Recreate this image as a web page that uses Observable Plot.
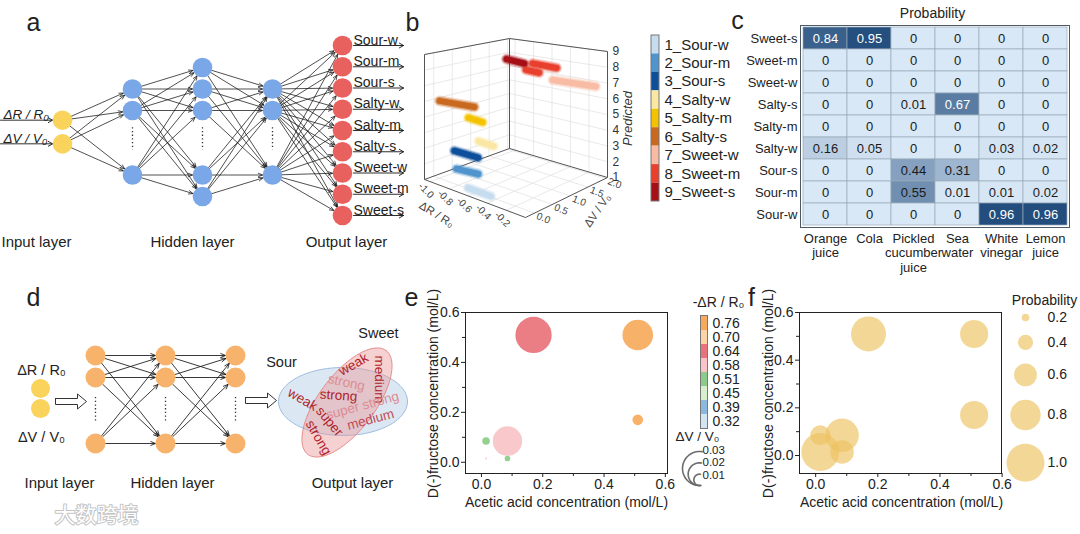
<!DOCTYPE html>
<html><head><meta charset="utf-8">
<script src="https://cdn.jsdelivr.net/npm/d3@7"></script>
<script src="https://cdn.jsdelivr.net/npm/@observablehq/plot@0.6"></script>
<style>
html,body{margin:0;padding:0;background:#fff;}
#fig{position:relative;width:1080px;height:534px;overflow:hidden;background:#fff;font-family:"Liberation Sans",Arial,sans-serif;color:#222;}
#fig svg{display:block;}
</style></head><body><div id="fig"></div>
<script>
// ================= DATA =================
// (a) network
const inputLabelsA = ["ΔR / R₀", "ΔV / V₀"];
const hiddenSlotsA = [[1, 2, 5], [0, 1, 2, 5, 6], [1, 2, 5]];
const outputLabelsA = ["Sour-w", "Sour-m", "Sour-s", "Salty-w", "Salty-m", "Salty-s", "Sweet-w", "Sweet-m", "Sweet-s"];
const layerTitles = ["Input layer", "Hidden layer", "Output layer"];

// (b) 3D prediction scatter
const tasteLabels = ["1_Sour-w", "2_Sour-m", "3_Sour-s", "4_Salty-w", "5_Salty-m", "6_Salty-s", "7_Sweet-w", "8_Sweet-m", "9_Sweet-s"];
const tasteColors = ["#c6dcef", "#4f94cd", "#0d4f9b", "#fbe7a4", "#f4c300", "#c9691f", "#f8bba3", "#e8402c", "#a50f15"];
const dRTicks = [-1.0, -0.8, -0.6, -0.4, -0.2];
const dVTicks = [0, 0.5, 1.0, 1.5, 2.0];
const predTicks = [1, 2, 3, 4, 5, 6, 7, 8, 9];
const clusterClass = [1, 2, 3, 4, 5, 6, 7, 8, 8, 9];
const clusterDR0 = [-0.71, -0.82, -0.87, -0.65, -0.83, -1.00, -0.46, -0.54, -0.63, -0.57];
const clusterDR1 = [-0.47, -0.63, -0.64, -0.49, -0.68, -0.72, -0.03, -0.40, -0.37, -0.38];
const clusterDV0 = [0.03, 0.00, 0.07, 0.16, 0.35, 0.00, 1.71, 1.18, 1.59, 0.72];
const clusterDV1 = [0.03, 0.10, 0.12, 0.16, 0.35, 0.23, 1.80, 1.18, 1.59, 0.72];

// (c) probability matrix
const samplesC = ["Orange\njuice", "Cola", "Pickled\ncucumber\njuice", "Sea\nwater", "White\nvinegar", "Lemon\njuice"];
const classesC = ["Sweet-s", "Sweet-m", "Sweet-w", "Salty-s", "Salty-m", "Salty-w", "Sour-s", "Sour-m", "Sour-w"];
const probC = [
  [0.84, 0.95, 0, 0, 0, 0],
  [0, 0, 0, 0, 0, 0],
  [0, 0, 0, 0, 0, 0],
  [0, 0, 0.01, 0.67, 0, 0],
  [0, 0, 0, 0, 0, 0],
  [0.16, 0.05, 0, 0, 0.03, 0.02],
  [0, 0, 0.44, 0.31, 0, 0],
  [0, 0, 0.55, 0.01, 0.01, 0.02],
  [0, 0, 0, 0, 0.96, 0.96]
];

// (d) network with fuzzy output
const inputLabelsD = ["ΔR / R₀", "ΔV / V₀"];
const hiddenNodesD = [3, 3, 3];
const tasteGroupsD = ["Sour", "Sweet"];
const levelWordsD = ["weak", "strong", "strong", "medium", "weak", "super strong", "super", "medium", "strong"];
const levelToneD = ["dark", "light", "dark", "dark", "dark", "light", "dark", "mid", "dark"];

// (e), (f) bubble charts
const acid = [0.17, 0.51, 0.51, 0.085, 0.015, 0.085, 0.015];
const fructose = [0.51, 0.51, 0.17, 0.085, 0.085, 0.015, 0.015];
const dRe = [0.64, 0.76, 0.76, 0.58, 0.51, 0.51, 0.58];
const dVe = [0.032, 0.027, 0.0094, 0.026, 0.0067, 0.005, 0.0018];
const probF = [0.92, 0.74, 0.74, 0.88, 0.53, 0.62, 1.0];
const legendE = [0.76, 0.70, 0.64, 0.58, 0.51, 0.45, 0.39, 0.32];
const legendEColors = ["#f7aa5c", "#fdd4a6", "#e9727b", "#f9c3c7", "#8ccb89", "#d8efcc", "#8cb8de", "#d3e5f2"];
const sizeLegendE = [0.03, 0.02, 0.01];
const sizeLegendF = [0.2, 0.4, 0.6, 0.8, 1.0];
const axisTicks = [0, 0.2, 0.4, 0.6];
const minorTicks = [0.1, 0.3, 0.5];

// ================= HELPERS =================
const FONT = '"Liberation Sans", Arial, Helvetica, sans-serif';
const fig = document.getElementById("fig");
function place(node, left, top, clipW, clipH) {
  const d = document.createElement("div");
  d.style.position = "absolute"; d.style.left = left + "px"; d.style.top = top + "px";
  if (clipW) { d.style.width = clipW + "px"; d.style.height = clipH + "px"; d.style.overflow = "hidden"; }
  d.appendChild(node); fig.appendChild(d);
}
const STYLE = {background: "transparent", fontFamily: FONT, fontSize: "14px", color: "#222", overflow: "visible"};
function pix(left, top, w, h, marks) {
  return Plot.plot({
    width: w, height: h, marginTop: 0, marginRight: 0, marginBottom: 0, marginLeft: 0, style: STYLE,
    x: {type: "linear", domain: [left, left + w], range: [0, w], axis: null},
    y: {type: "linear", domain: [top, top + h], range: [0, h], axis: null},
    color: {type: "identity"},
    marks
  });
}

// ================= (a) =================
{
  const colX = L => 62 + 70 * L;
  const slotY = s => 67 + 21.5 * s;
  const nodes = [];
  inputLabelsA.forEach((t, i) => nodes.push({L: 0, x: colX(0), y: slotY(3 + (i - 0.5) * 1.1), fill: "#f9d35b", label: t}));
  hiddenSlotsA.forEach((slots, k) => slots.forEach(s => nodes.push({L: k + 1, x: colX(k + 1), y: slotY(s), fill: "#7aa7e7"})));
  outputLabelsA.forEach((t, i) => nodes.push({L: 4, x: colX(4), y: 45 + 21.25 * i, fill: "#e9615f", label: t}));
  const edges = [];
  for (let L = 0; L < 4; L++)
    for (const p of nodes.filter(n => n.L === L))
      for (const q of nodes.filter(n => n.L === L + 1)) edges.push({x1: p.x, y1: p.y, x2: q.x, y2: q.y});
  const ins = nodes.filter(n => n.L === 0), outs = nodes.filter(n => n.L === 4);
  place(pix(0, 0, 420, 262, [
    Plot.arrow(edges, {x1: "x1", y1: "y1", x2: "x2", y2: "y2", stroke: "#151515", strokeWidth: 0.75, headLength: 9, headAngle: 45, insetStart: 9, insetEnd: 10}),
    Plot.arrow(ins, {x1: 0, x2: "x", y1: "y", y2: "y", stroke: "#151515", strokeWidth: 0.9, headLength: 8, insetEnd: 10}),
    Plot.text(ins, {x: 3, y: d => d.y - 1, text: "label", textAnchor: "start", lineAnchor: "bottom", fontSize: 13.5, fontStyle: "italic"}),
    Plot.ruleX([1, 2, 3].map(colX), {x: d => d, y1: slotY(2.8), y2: slotY(3.85), stroke: "#333", strokeWidth: 1.3, strokeDasharray: "1.3,2.4"}),
    Plot.dot(nodes, {x: "x", y: "y", r: 9.8, fill: "fill"}),
    Plot.arrow(outs, {x1: colX(4) + 11, x2: 403, y1: "y", y2: "y", stroke: "#151515", strokeWidth: 0.9, headLength: 8}),
    Plot.text(outs, {x: colX(4) + 11, y: d => d.y - 1, text: "label", textAnchor: "start", lineAnchor: "bottom", fontSize: 14}),
    Plot.text(layerTitles, {x: (d, i) => [36, 192, 346][i], y: 242, text: d => d, fontSize: 15})
  ]), 0, 0);
}

// ================= (b) =================
{
  const rD = [-1.06, 0], vD = [-0.25, 2.05], pD = [1, 9];
  const proj = (dr, dv, p) => {
    const u = (dr - rD[0]) / (rD[1] - rD[0]), v = (dv - vD[0]) / (vD[1] - vD[0]), w = (p - pD[0]) / (pD[1] - pD[0]);
    const X = 424 + 101 * u + 85 * v - 3 * u * v;
    const Yf = 179 + 38 * u - 31 * v - 9 * u * v;
    const H = 125 + 5 * u - 15 * v + 11 * u * v;
    return [X, Yf - w * H];
  };
  const seg = (a, b) => { const A = proj(...a), B = proj(...b); return {x1: A[0], y1: A[1], x2: B[0], y2: B[1]}; };
  const [r0, r1] = rD, [v0, v1] = vD, [p0, p1] = pD;
  const grid = [];
  for (const t of dRTicks) { grid.push(seg([t, v0, p0], [t, v1, p0])); grid.push(seg([t, v1, p0], [t, v1, p1])); }
  for (const t of dVTicks) { grid.push(seg([r0, t, p0], [r1, t, p0])); grid.push(seg([r0, t, p0], [r0, t, p1])); }
  for (const t of predTicks.slice(1)) { grid.push(seg([r0, v0, t], [r0, v1, t])); grid.push(seg([r0, v1, t], [r1, v1, t])); }
  const box = [
    seg([r0, v0, p0], [r1, v0, p0]), seg([r1, v0, p0], [r1, v1, p0]),
    seg([r0, v0, p0], [r0, v1, p0]), seg([r0, v1, p0], [r1, v1, p0]),
    seg([r0, v0, p0], [r0, v0, p1]), seg([r0, v1, p0], [r0, v1, p1]), seg([r1, v1, p0], [r1, v1, p1]),
    seg([r0, v0, p1], [r0, v1, p1]), seg([r0, v1, p1], [r1, v1, p1])
  ];
  const clusters = clusterClass.map((c, i) => ({...seg([clusterDR0[i], clusterDV0[i], c], [clusterDR1[i], clusterDV1[i], c]), color: tasteColors[c - 1]}));
  const L = opts => Plot.link(clusters, {x1: "x1", y1: "y1", x2: "x2", y2: "y2", stroke: "color", strokeLinecap: "round", ...opts});
  place(pix(370, 0, 290, 240, [
    Plot.link(grid, {x1: "x1", y1: "y1", x2: "x2", y2: "y2", stroke: "#e0e0e0", strokeWidth: 0.7}),
    Plot.link(box, {x1: "x1", y1: "y1", x2: "x2", y2: "y2", stroke: "#555", strokeWidth: 1}),
    L({strokeWidth: 11, strokeOpacity: 0.22}),
    L({strokeWidth: 8.5, strokeOpacity: 0.5}),
    L({strokeWidth: 6}),
    Plot.text(dRTicks, {x: t => proj(t, v0, p0)[0] - 4, y: t => proj(t, v0, p0)[1] + 9, text: t => t.toFixed(1), rotate: 45, fontSize: 10, fill: "#444"}),
    Plot.text(dVTicks, {x: t => proj(r1, t, p0)[0] + 9, y: t => proj(r1, t, p0)[1] + 5, text: t => t.toFixed(1), rotate: 22, fontSize: 10, fill: "#444"}),
    Plot.text(predTicks, {x: t => proj(r1, v1, t)[0] + 5, y: t => proj(r1, v1, t)[1], text: t => String(t), textAnchor: "start", fontSize: 12, fill: "#333"}),
    Plot.text(["ΔR / R₀"], {x: 436, y: 214, text: d => d, rotate: 32, fontSize: 11.5, fill: "#444"}),
    Plot.text(["ΔV / V₀"], {x: 597, y: 210, text: d => d, rotate: -55, fontSize: 11.5, fill: "#444"}),
    Plot.text(["Predicted"], {x: 627, y: 118, text: d => d, rotate: -90, fontSize: 13, fontStyle: "italic", fill: "#333"})
  ]), 370, 0);

  // colour key
  place(Plot.plot({
    width: 120, height: 190, marginTop: 0, marginRight: 0, marginBottom: 0, marginLeft: 0, style: STYLE,
    x: {domain: [0, 1], range: [6, 14], axis: null}, y: {domain: [0, 9], range: [10, 176], axis: null},
    color: {type: "identity"},
    marks: [
      Plot.rect(tasteLabels, {x1: 0, x2: 1, y1: (d, i) => i, y2: (d, i) => i + 1, fill: (d, i) => tasteColors[i]}),
      Plot.rect([0], {x1: 0, x2: 1, y1: 0, y2: 9, fill: "none", stroke: "#777", strokeWidth: 1}),
      Plot.text(tasteLabels, {x: 1, dx: 5, y: (d, i) => i + 0.5, text: d => d, textAnchor: "start", fontSize: 15})
    ]
  }), 645, 25);
}

// ================= (c) =================
{
  const cells = classesC.flatMap((c, i) => samplesC.map((s, j) => ({cls: c, sample: s, p: probC[i][j]})));
  const fmt = d => d.p === 0 ? "0" : d.p.toFixed(2);
  place(Plot.plot({
    width: 345, height: 280, marginLeft: 65, marginRight: 11, marginTop: 25, marginBottom: 53, style: STYLE,
    x: {domain: samplesC, padding: 0, axis: null}, y: {domain: classesC, padding: 0, axis: null},
    color: {type: "linear", domain: [0, 1], range: ["#d9e8f6", "#1b4778"]},
    marks: [
      Plot.cell(cells, {x: "sample", y: "cls", fill: "p", stroke: "#98a9b8", strokeWidth: 0.7, inset: 0}),
      Plot.frame({stroke: "#4d5a66", strokeWidth: 1}),
      Plot.text(cells.filter(d => d.p > 0.6), {x: "sample", y: "cls", text: fmt, fill: "#fff", fontSize: 13}),
      Plot.text(cells.filter(d => d.p <= 0.6), {x: "sample", y: "cls", text: fmt, fill: "#1a1a1a", fontSize: 13}),
      Plot.axisY({tickSize: 0, tickPadding: 3, fontSize: 13, label: null}),
      Plot.axisX({tickSize: 0, tickPadding: 5, fontSize: 13, label: null, lineHeight: 1.12})
    ]
  }), 735, 0);
}

// ================= (d) =================
{
  const colX = [95, 165, 235], slotY = [355, 377, 443];
  const nodes = [];
  hiddenNodesD.forEach((n, L) => slotY.slice(0, n).forEach(y => nodes.push({L, x: colX[L], y})));
  const edges = [];
  for (let L = 0; L < 2; L++)
    for (const p of nodes.filter(n => n.L === L))
      for (const q of nodes.filter(n => n.L === L + 1)) edges.push({x1: p.x, y1: p.y, x2: q.x, y2: q.y});
  const inputs = inputLabelsD.map((t, i) => ({x: 40, y: 388 + 20 * i, t}));
  const hollow = (xs, xe, y, id) => [[xs, y - 3], [xe - 9, y - 3], [xe - 9, y - 7.5], [xe, y], [xe - 9, y + 7.5], [xe - 9, y + 3], [xs, y + 3], [xs, y - 3]].map(([x, yy]) => ({x, y: yy, id}));
  const ellipse = (cx, cy, rx, ry, deg) => d3.range(0, 361, 4).map(a => {
    const t = a * Math.PI / 180, c = Math.cos(deg * Math.PI / 180), s = Math.sin(deg * Math.PI / 180);
    const ex = rx * Math.cos(t), ey = ry * Math.sin(t);
    return {x: cx + ex * c - ey * s, y: cy + ex * s + ey * c};
  });
  const wordPos = [[353, 364, -30], [346, 382, 12], [338, 395, 4], [379, 379, 90], [302, 399, 30], [362, 405, -15], [329, 421, 50], [370, 419, -15], [318, 437, 60]];
  const tone = {dark: "#b01d2a", light: "#dc8c92", mid: "#c34b57"};
  const words = levelWordsD.map((w, i) => ({w, x: wordPos[i][0], y: wordPos[i][1], rot: wordPos[i][2], fill: tone[levelToneD[i]]}));
  place(pix(0, 280, 412, 254, [
    Plot.arrow(edges, {x1: "x1", y1: "y1", x2: "x2", y2: "y2", stroke: "#151515", strokeWidth: 0.85, headLength: 9, headAngle: 45, insetStart: 10, insetEnd: 10}),
    Plot.ruleX(colX, {x: d => d, y1: 397, y2: 422, stroke: "#333", strokeWidth: 1.3, strokeDasharray: "1.3,2.4"}),
    Plot.dot(nodes, {x: "x", y: "y", r: 10, fill: "#f7b36c"}),
    Plot.dot(inputs, {x: "x", y: "y", r: 9.5, fill: "#f9d35b"}),
    Plot.text(inputs, {x: 41, y: (d, i) => [370, 437][i], text: "t", fontSize: 14.5}),
    Plot.line([...hollow(55, 86, 401, "a"), ...hollow(245, 276, 400, "b")], {x: "x", y: "y", z: "id", fill: "white", stroke: "#333", strokeWidth: 1}),
    Plot.line(ellipse(342.5, 401, 64.5, 34, 0), {x: "x", y: "y", fill: "#dce7f4", stroke: "#9fbde0", strokeWidth: 1}),
    Plot.line(ellipse(346.5, 402, 65, 28, -53), {x: "x", y: "y", fill: "#ec9a9a", fillOpacity: 0.45, stroke: "#e58c8c", strokeWidth: 1}),
    Plot.text(words, {x: "x", y: "y", text: "w", rotate: d => d.rot, fill: "fill", fontSize: 13.5}),
    Plot.text(tasteGroupsD, {x: (d, i) => [281, 378][i], y: (d, i) => [362, 333][i], text: d => d, fontSize: 14.5}),
    Plot.text(layerTitles, {x: (d, i) => [59, 172, 352][i], y: 483, text: d => d, fontSize: 15})
  ]), 0, 280);
}

// ================= (e) & (f) =================
function frameAxes() {
  return [
    Plot.frame({stroke: "#222", strokeWidth: 1}),
    Plot.axisX({ticks: axisTicks, tickFormat: d3.format(".1f"), tickSize: 4, tickPadding: 2, fontSize: 14, label: null}),
    Plot.axisX({ticks: minorTicks, tickFormat: () => "", tickSize: 3, label: null}),
    Plot.axisY({ticks: axisTicks, tickFormat: d3.format(".1f"), tickSize: 4, tickPadding: 2, fontSize: 14, label: null}),
    Plot.axisY({ticks: minorTicks, tickFormat: () => "", tickSize: 3, label: null})
  ];
}
{
  const eData = acid.map((a, i) => ({a, f: fructose[i], dr: dRe[i], dv: dVe[i]}));
  place(Plot.plot({
    width: 270, height: 233, marginLeft: 60, marginRight: 8, marginTop: 30, marginBottom: 42, style: STYLE,
    x: {domain: [-0.052, 0.607], axis: null}, y: {domain: [-0.045, 0.6], axis: null},
    r: {type: "linear", domain: [0, 0.03], range: [0, 17]},
    color: {type: "ordinal", domain: legendE, range: legendEColors},
    marks: [...frameAxes(), Plot.dot(eData, {x: "a", y: "f", r: "dv", fill: "dr", fillOpacity: 0.92})]
  }), 405, 282);

  // colour key for -ΔR/R0
  place(Plot.plot({
    width: 70, height: 125, marginLeft: 10, marginRight: 53, marginTop: 5, marginBottom: 7, style: STYLE,
    x: {domain: [0, 1], axis: null}, y: {domain: legendE, padding: 0, axis: null},
    color: {type: "ordinal", domain: legendE, range: legendEColors},
    marks: [
      Plot.barX(legendE, {y: d => d, x1: 0, x2: 1, fill: d => d, inset: 0}),
      Plot.frame({stroke: "#777"}),
      Plot.text(legendE, {y: d => d, x: 1, dx: 5, text: d => d.toFixed(2), textAnchor: "start", fontSize: 14})
    ]
  }), 690, 310);

  // size key for ΔV/V0
  const rE = v => 17 * v / 0.03;
  const arcs = sizeLegendE.flatMap(v => d3.range(280, 84, -5).map(a => ({v, x: 699 + rE(v) * Math.cos(a * Math.PI / 180), y: 485 - rE(v) + rE(v) * Math.sin(a * Math.PI / 180)})));
  place(pix(670, 420, 90, 80, [
    Plot.line(arcs, {x: "x", y: "y", z: "v", stroke: "#6b6b6b", strokeWidth: 1.6}),
    Plot.text(sizeLegendE, {x: 702, y: (v, i) => 449.5 + 12.6 * i, text: v => v.toFixed(2), textAnchor: "start", fontSize: 11.5})
  ]), 670, 420);
}
{
  const fData = acid.map((a, i) => ({a, f: fructose[i], p: probF[i]}));
  place(Plot.plot({
    width: 270, height: 233, marginLeft: 59, marginRight: 9, marginTop: 30, marginBottom: 42, style: STYLE,
    x: {domain: [-0.052, 0.598], axis: null}, y: {domain: [-0.0755, 0.6], axis: null},
    r: {type: "linear", domain: [0, 1], range: [0, 19]},
    marks: [...frameAxes(), Plot.dot(fData, {x: "a", y: "f", r: "p", fill: "#ecc260", fillOpacity: 0.65})]
  }), 740, 282);

  // size key for probability
  const rF = v => 19 * v;
  const ys = []; sizeLegendF.forEach((v, i) => ys.push(i === 0 ? 317 : ys[i - 1] + rF(sizeLegendF[i - 1]) + rF(v) + 13.5));
  place(Plot.plot({
    width: 80, height: 200, marginTop: 0, marginRight: 0, marginBottom: 0, marginLeft: 0, style: STYLE,
    x: {domain: [1000, 1080], range: [0, 80], axis: null}, y: {domain: [285, 485], range: [0, 200], axis: null},
    r: {type: "linear", domain: [0, 1], range: [0, 19]},
    marks: [
      Plot.dot(sizeLegendF, {x: 1025, y: (v, i) => ys[i], r: v => v, fill: "#ecc260", fillOpacity: 0.65}),
      Plot.text(sizeLegendF, {x: 1047, y: (v, i) => ys[i], text: v => v.toFixed(1), textAnchor: "start", fontSize: 14})
    ]
  }), 1000, 285);
}

// ================= overlay text =================
place(pix(0, 0, 1080, 534, [
  Plot.text(["a", "b", "c", "d", "e", "f"], {x: (d, i) => [33, 412, 737, 33, 411, 751][i], y: (d, i) => [22, 22, 20, 297, 297, 297][i], text: d => d, fontSize: 25}),
  Plot.text(["Probability"], {x: 932, y: 13, text: d => d, fontSize: 14}),
  Plot.text(["Acetic acid concentration (mol/L)", "Acetic acid concentration (mol/L)"], {x: (d, i) => [566, 901][i], y: 502, text: d => d, fontSize: 14}),
  Plot.text(["D(-)fructose concentration (mol/L)", "D(-)fructose concentration (mol/L)"], {x: (d, i) => [433, 768][i], y: 393, text: d => d, rotate: -90, fontSize: 14}),
  Plot.text(["-ΔR / R₀"], {x: 718, y: 302, text: d => d, fontSize: 14}),
  Plot.text(["ΔV / V₀"], {x: 697, y: 436, text: d => d, fontSize: 13.5}),
  Plot.text(["Probability"], {x: 1044, y: 300, text: d => d, fontSize: 14}),
  Plot.text(["大数跨境"], {x: 96, y: 515, text: d => d, fontSize: 21, fontFamily: '"Noto Sans CJK SC", sans-serif', fill: "#fff", stroke: "#c4c4c4", strokeWidth: 2})
]), 0, 0);
</script></body></html>
